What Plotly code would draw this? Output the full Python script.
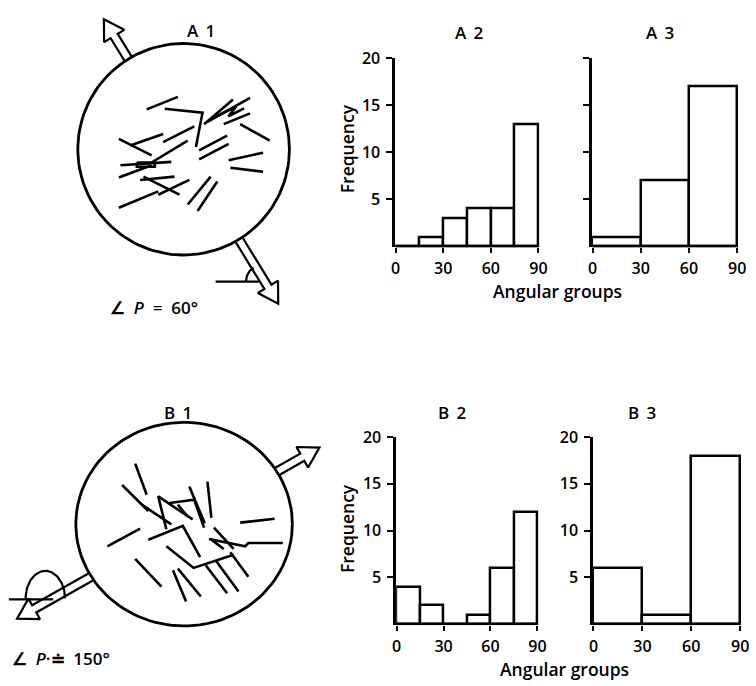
import numpy as np
import plotly.graph_objects as go

W, H = 756, 686

# ---------------- data ----------------
a2_edges = [0, 15, 30, 45, 60, 75, 90]
a2_counts = [0, 1, 3, 4, 4, 13]
a3_edges = [0, 30, 60, 90]
a3_counts = [1, 7, 17]
b2_edges = [0, 15, 30, 45, 60, 75, 90]
b2_counts = [4, 2, 0, 1, 6, 12]
b3_edges = [0, 30, 60, 90]
b3_counts = [6, 1, 18]
x_tick_vals = [0, 30, 60, 90]
y_tick_vals = [5, 10, 15, 20]

panel_titles = ["A 1", "A 2", "A 3", "B 1", "B 2", "B 3"]
angle_texts = ["∠  <i>P</i>  =  60°", "∠  <i>P</i>·≐  150°"]
x_title = "Angular groups"
y_title = "Frequency"

# drawing A1 (page pixel coords of the fibre sketch)
circle_A = (182.5, 140.5, 107.5, 107.5)
arrow_A = dict(angle=58.5, tip_pos=184, tip_neg=155)
fibres_A = [
    [(145, 100), (176.7, 87.3)],
    [(163.3, 99.3), (201.7, 103.3), (195, 138.3)],
    [(203.3, 115), (232.7, 90)],
    [(206.7, 112.7), (250, 88.3)],
    [(223.3, 115), (250, 104)],
    [(214, 108), (236, 97), (228, 107), (244, 99)],
    [(240, 115), (270, 131.7)],
    [(116.7, 130), (150, 146.7)],
    [(128.3, 136.7), (161.7, 125)],
    [(161.7, 133.3), (193.3, 117.3)],
    [(198.3, 141.7), (226.7, 126.7)],
    [(198.3, 150.7), (228.3, 135)],
    [(228.3, 151.7), (263.3, 144)],
    [(230, 159.3), (263.3, 163.3)],
    [(118.3, 156.7), (170, 153.3)],
    [(135, 154), (153.3, 154), (153.3, 158.3), (135, 158.3), (135, 154)],
    [(116.7, 169.3), (150, 156.7)],
    [(148.3, 155), (186.7, 131.7)],
    [(138.3, 171.7), (173.3, 168.3)],
    [(141.7, 168.3), (178.3, 186.7)],
    [(156.7, 186.7), (188.3, 171.7)],
    [(116.7, 200), (156.7, 183.3)],
    [(186.7, 196.7), (210, 168.3)],
    [(196.7, 203.3), (216.7, 173.3)],
]
marker_A_line = [(215, 275), (260, 275)]
marker_A_arc = dict(cx=262, cy=274.4, rx=16, ry=16, a0=121.5, a1=180)

# drawing B1
circle_B = (183, 521.5, 110, 103.5)
arrow_B = dict(angle=-29.5, tip_pos=158, tip_neg=195)
fibres_B = [
    [(133.3, 460), (145, 491.7)],
    [(120, 481.7), (146.7, 508.3)],
    [(140, 501.7), (170, 521.7)],
    [(165, 526.7), (156.7, 493.3), (191.7, 516.7)],
    [(168.3, 500), (193.3, 496.7), (203.3, 525)],
    [(176.7, 501.7), (186.7, 514)],
    [(188.3, 483.3), (204, 520.7)],
    [(206.7, 478.3), (210.7, 515)],
    [(240, 520), (275, 516)],
    [(105, 544), (138.3, 526)],
    [(146.7, 537.3), (181.7, 523.3), (199.3, 555)],
    [(165, 544), (192.7, 566), (233.3, 552.7)],
    [(213.3, 525), (233.3, 546.7)],
    [(208.3, 536.7), (245, 544), (248.3, 540.7), (283.3, 540.7)],
    [(210, 536.7), (223.3, 546.7)],
    [(133.3, 556.7), (160, 585)],
    [(171.7, 568.3), (185, 600)],
    [(176.7, 566.7), (200, 595)],
    [(205, 563.3), (226.7, 591.7)],
    [(215, 558.3), (238.3, 590)],
    [(230, 550), (248.3, 575)],
]
marker_B_line = [(5, 598), (50, 598)]
marker_B_arc = dict(cx=42, cy=597, rx=20, ry=28, a0=0, a1=180)

# ---------------- helpers ----------------
FAM = "'Open Sans', Lato, sans-serif"
TICKFONT = dict(family=FAM, size=16, color="black", weight=600)
LABFONT = dict(family=FAM, size=17.5, color="black", weight=600)
TITFONT = dict(family=FAM, size=17, color="black", weight=600)


def xdom(p0, p90, r0, r1):
    s = (p90 - p0) / 90.0
    return [(p0 + r0 * s) / W, (p0 + r1 * s) / W]


def ydom(p0, p20, r0, r1):
    s = (p0 - p20) / 20.0
    return [1 - (p0 - r0 * s) / H, 1 - (p0 - r1 * s) / H]


def polyline_xy(lines):
    xs, ys = [], []
    for ln in lines:
        for (x, y) in ln:
            xs.append(x)
            ys.append(y)
        xs.append(None)
        ys.append(None)
    return xs, ys


def ellipse_pts(cx, cy, rx, ry, a0=0, a1=360, n=120):
    t = np.radians(np.linspace(a0, a1, n))
    return list(zip(cx + rx * np.cos(t), cy - ry * np.sin(t)))


def ellipse_exit(circ, u):
    cx, cy, rx, ry = circ
    return 1.0 / np.sqrt((u[0] / rx) ** 2 + (u[1] / ry) ** 2)


def arrow_lines(circ, arr, w=4.2, L=20, Hh=12):
    cx, cy = circ[0], circ[1]
    a = np.radians(arr["angle"])
    lines = []
    for sign, dist in ((1, arr["tip_pos"]), (-1, arr["tip_neg"])):
        u = np.array([np.cos(a), np.sin(a)]) * sign
        n = np.array([-u[1], u[0]])
        c = np.array([cx, cy])
        t0 = ellipse_exit(circ, u)
        tip = c + dist * u
        base = tip - L * u
        start = c + t0 * u
        lines.append([tuple(start + w * n), tuple(base + w * n), tuple(base + Hh * n), tuple(tip),
                      tuple(base - Hh * n), tuple(base - w * n), tuple(start - w * n)])
    return lines


fig = go.Figure()

# ---------------- histograms ----------------
panels = [
    ("x", "y", a2_edges, a2_counts, (398, 543, 239, 48), True),
    ("x2", "y2", a3_edges, a3_counts, (598, 745, 239, 48), False),
    ("x3", "y3", b2_edges, b2_counts, (399, 542, 623, 433), True),
    ("x4", "y4", b3_edges, b3_counts, (599, 748, 623, 433), True),
]
xr = [-0.3, 90.8]
yr = [-0.14, 20]
for i, (xa, ya, edges, counts, px, show_y) in enumerate(panels):
    centers = [(edges[k] + edges[k + 1]) / 2 for k in range(len(counts))]
    widths = [edges[k + 1] - edges[k] for k in range(len(counts))]
    fig.add_trace(go.Bar(
        x=centers, y=counts, width=widths, xaxis=xa, yaxis=ya,
        marker=dict(color="white", line=dict(color="black", width=2.5)),
        showlegend=False, hoverinfo="skip"))
    # baseline of the histogram (from first to last bin edge at zero count)
    fig.add_trace(go.Scatter(
        x=[edges[0], edges[-1]], y=[0, 0], xaxis=xa, yaxis=ya, mode="lines",
        line=dict(color="black", width=2.6), showlegend=False, hoverinfo="skip"))
    sfx = "" if i == 0 else str(i + 1)
    fig.layout["xaxis" + sfx] = dict(
        domain=xdom(px[0], px[1], xr[0], xr[1]), range=xr, anchor="y" + sfx,
        tickvals=x_tick_vals, ticks="outside", ticklen=5, tickwidth=2, tickcolor="black",
        showline=False, showgrid=False, zeroline=False,
        tickfont=TICKFONT, ticklabelstandoff=1, fixedrange=True)
    fig.layout["yaxis" + sfx] = dict(
        domain=ydom(px[2], px[3], yr[0], 20), range=yr, anchor="x" + sfx,
        tickvals=y_tick_vals, ticks="outside", ticklen=6, tickwidth=2, tickcolor="black",
        showline=True, linewidth=2.5, linecolor="black", showgrid=False, zeroline=False,
        showticklabels=show_y, tickfont=TICKFONT, ticklabelstandoff=3, fixedrange=True)

# ---------------- sketches ----------------
fig.layout["xaxis5"] = dict(domain=[0, 1], range=[0, W], visible=False, fixedrange=True, anchor="y5")
fig.layout["yaxis5"] = dict(domain=[0, 1], range=[H, 0], visible=False, fixedrange=True, anchor="x5")

for circ in (circle_A, circle_B):
    pts = ellipse_pts(*circ)
    fig.add_trace(go.Scatter(x=[p[0] for p in pts], y=[p[1] for p in pts], mode="lines",
                             line=dict(color="black", width=2.8), xaxis="x5", yaxis="y5",
                             showlegend=False, hoverinfo="skip"))

fib_x, fib_y = polyline_xy(fibres_A + fibres_B)
fig.add_trace(go.Scatter(x=fib_x, y=fib_y, mode="lines", line=dict(color="black", width=2.6),
                         xaxis="x5", yaxis="y5", showlegend=False, hoverinfo="skip"))

arr_lines = arrow_lines(circle_A, arrow_A) + arrow_lines(circle_B, arrow_B)
arc_A = ellipse_pts(marker_A_arc["cx"], marker_A_arc["cy"], marker_A_arc["rx"], marker_A_arc["ry"],
                    marker_A_arc["a0"], marker_A_arc["a1"], 40)
arc_B = ellipse_pts(marker_B_arc["cx"], marker_B_arc["cy"], marker_B_arc["rx"], marker_B_arc["ry"],
                    marker_B_arc["a0"], marker_B_arc["a1"], 60)
ax_, ay_ = polyline_xy(arr_lines + [marker_A_line, marker_B_line, arc_A, arc_B])
fig.add_trace(go.Scatter(x=ax_, y=ay_, mode="lines", line=dict(color="black", width=2.2),
                         xaxis="x5", yaxis="y5", showlegend=False, hoverinfo="skip"))


# ---------------- text ----------------
def ann(text, px, py, font, angle=0, xanchor="center"):
    fig.add_annotation(text=text, x=px / W, y=1 - py / H, xref="paper", yref="paper",
                       showarrow=False, font=font, textangle=angle, xanchor=xanchor, yanchor="middle")


title_pos = [(200, 20), (472, 22), (667, 22), (177, 408), (455, 408), (648, 408)]
for t, (px, py) in zip(panel_titles, title_pos):
    ann(t.replace(" ", "\u2009 "), px, py, TITFONT)
ann(y_title, 348, 140, LABFONT, -90)
ann(y_title, 348, 526, LABFONT, -90)
ann(x_title, 562, 285, LABFONT)
ann(x_title, 570, 669, LABFONT)
ann(angle_texts[0], 106, 301, TITFONT, xanchor="left")
ann(angle_texts[1], 6, 658, TITFONT, xanchor="left")

fig.update_layout(width=W, height=H, margin=dict(l=0, r=0, t=0, b=0),
                  paper_bgcolor="white", plot_bgcolor="rgba(0,0,0,0)",
                  showlegend=False, bargap=0)

fig.write_html("out.html")
